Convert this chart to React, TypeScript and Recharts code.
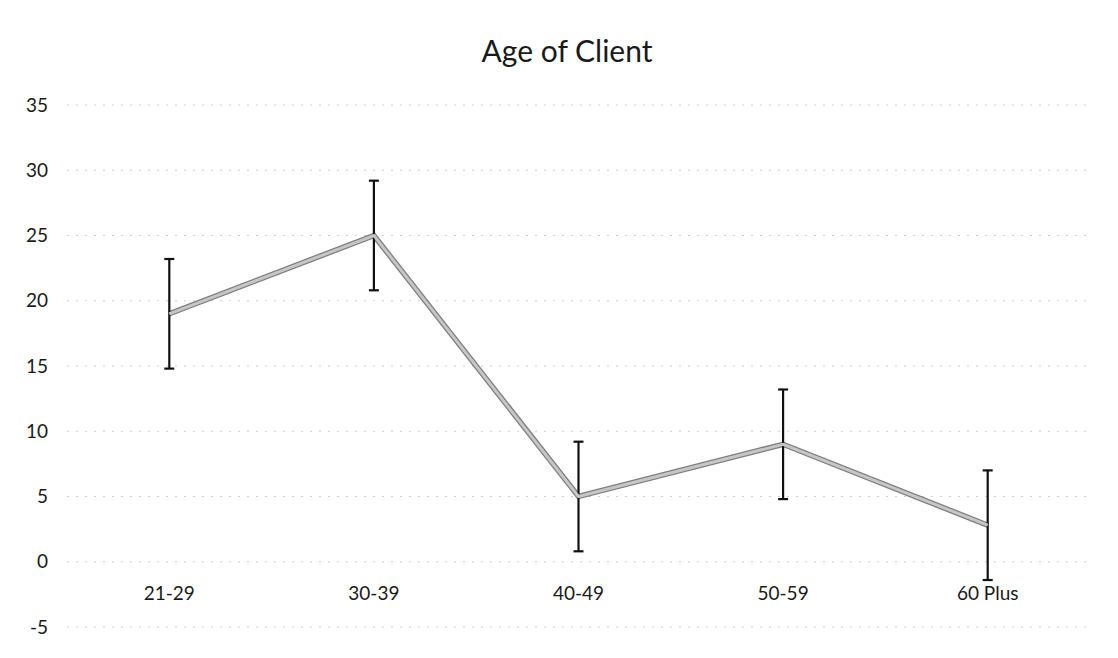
import { LineChart, Line, XAxis, YAxis, CartesianGrid, ErrorBar } from "recharts";

const AGE_GROUPS = ["21-29", "30-39", "40-49", "50-59", "60 Plus"];
const CLIENT_COUNTS = [19, 25, 5, 9, 2.8];
const ERROR_AMOUNTS = [4.2, 4.2, 4.2, 4.2, 4.2];
const Y_TICKS = [-5, 0, 5, 10, 15, 20, 25, 30, 35];

const FONT = "Lato, 'Open Sans', sans-serif";

const chartData = AGE_GROUPS.map((group, i) => ({
  group,
  count: CLIENT_COUNTS[i],
  err: ERROR_AMOUNTS[i],
}));

// Excel puts the category labels just under the zero line, not at the bottom
function CategoryTick(props: any) {
  const { x, y, payload } = props;
  return (
    <text x={x} y={y - 35} textAnchor="middle" fontSize={19} fill="#1a1a1a" fontFamily={FONT}>
      {payload.value}
    </text>
  );
}

export default function App() {
  return (
    <div style={{ position: "relative", width: 1118, height: 658, background: "#fff" }}>
      <style>{"body{margin:0}"}</style>
      <div
        style={{
          position: "absolute",
          top: 32,
          left: 0,
          width: 1118,
          textAlign: "center",
          fontFamily: FONT,
          fontSize: 30,
          lineHeight: "36px",
          color: "#1a1a1a",
          paddingLeft: 16,
          boxSizing: "border-box",
        }}
      >
        Age of Client
      </div>
      <LineChart
        width={1118}
        height={658}
        data={chartData}
        margin={{ top: 105, right: 28, bottom: 0, left: 27 }}
      >
        <CartesianGrid vertical={false} stroke="#cfcfcf" strokeDasharray="2 7" />
        <XAxis
          dataKey="group"
          scale="band"
          axisLine={false}
          tickLine={false}
          height={31}
          tick={<CategoryTick />}
          interval={0}
        />
        <YAxis
          domain={[-5, 35]}
          ticks={Y_TICKS}
          width={40}
          axisLine={false}
          tickLine={false}
          tickMargin={13}
          tick={{ fontSize: 19, fill: "#1a1a1a", fontFamily: FONT }}
        />
        <Line
          dataKey="count"
          stroke="#7d7d7d"
          strokeWidth={5.5}
          dot={false}
          isAnimationActive={false}
        />
        <Line
          dataKey="count"
          stroke="#c6c6c6"
          strokeWidth={3}
          dot={false}
          isAnimationActive={false}
        >
          <ErrorBar dataKey="err" width={5} stroke="#111" strokeWidth={2.2} direction="y" />
        </Line>
      </LineChart>
    </div>
  );
}
